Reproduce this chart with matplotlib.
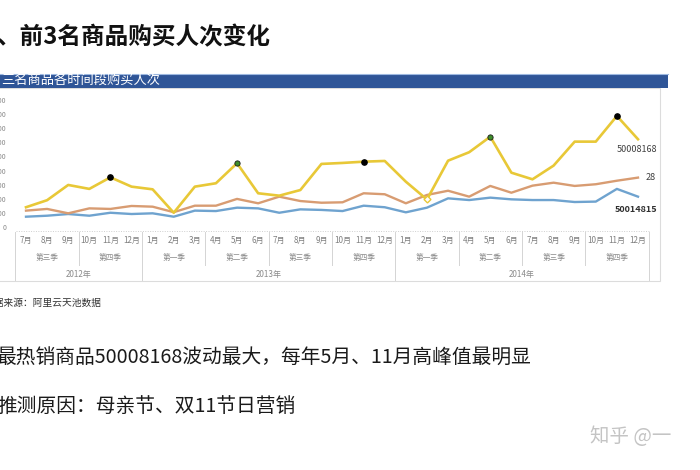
import matplotlib
matplotlib.use("Agg")
import matplotlib.pyplot as plt
from matplotlib.patches import Rectangle
from matplotlib.lines import Line2D
from matplotlib.transforms import blended_transform_factory

plt.rcParams['font.family'] = ['Noto Sans CJK SC', 'DejaVu Sans']

# ---------------- data ----------------
months = ["7月", "8月", "9月", "10月", "11月", "12月",
          "1月", "2月", "3月", "4月", "5月", "6月", "7月", "8月", "9月", "10月", "11月", "12月",
          "1月", "2月", "3月", "4月", "5月", "6月", "7月", "8月", "9月", "10月", "11月", "12月"]
quarters = ["第三季", "第四季", "第一季", "第二季", "第三季", "第四季",
            "第一季", "第二季", "第三季", "第四季"]
years = ["2012年", "2013年", "2014年"]
year_sizes = [6, 12, 12]

s_50008168 = [140, 190, 298, 270, 352, 286, 267, 101, 286, 310, 452, 239, 222, 262, 447,
              454, 463, 468, 321, 195, 470, 530, 640, 385, 338, 435, 605, 605, 787, 622]
s_28 = [116, 128, 97, 132, 128, 149, 144, 105, 151, 151, 199, 168, 215, 184, 172,
        175, 239, 232, 168, 227, 257, 215, 291, 243, 293, 314, 291, 303, 328, 350]
s_50014815 = [73, 80, 92, 80, 101, 92, 97, 73, 116, 113, 137, 132, 101, 125, 121,
              113, 151, 140, 104, 137, 203, 191, 208, 196, 191, 191, 177, 180, 270, 215]
series_names = ["50008168", "28", "50014815"]
black_peaks = [4, 16, 28]
green_peaks = [10, 22]
white_mark = [19]
yticks = list(range(0, 1000, 100))

# ---------------- layout helpers ----------------
W, H = 700, 470
def X(p): return p / W
def Y(p): return 1 - p / H

fig = plt.figure(figsize=(7, 4.7), dpi=100)
fig.patch.set_facecolor('white')

# chart frame
fig.patches.append(Rectangle((X(-2), Y(281)), X(662), (281 - 88) / H, transform=fig.transFigure,
                             facecolor='white', edgecolor='#dcdcdc', lw=0.8, zorder=-10))
# banner
fig.patches.append(Rectangle((X(-2), Y(88)), X(670), 14 / H, transform=fig.transFigure,
                             facecolor='#2F5597', edgecolor='none', zorder=1))
fig.lines.append(Line2D([X(-2), X(668)], [Y(74), Y(74)], transform=fig.transFigure,
                        color='#9db8e0', lw=0.8, zorder=2))
fig.text(X(1), Y(81.5), "三名商品各时间段购买人次", fontsize=9.5, color='white',
         ha='left', va='center', zorder=3)

# title
fig.text(X(-4), Y(37), "、前3名商品购买人次变化", fontsize=17, fontweight='bold',
         color='#111111', ha='left', va='center')

# axes
px_per_unit = 21.1
x0_pix = 26
ax_left, ax_right = 16, 660
ax = fig.add_axes([X(ax_left), Y(227), X(ax_right - ax_left), (227 - 100) / H])
ax.set_zorder(5)
ax.set_facecolor('none')
xs = list(range(len(months)))
ax.set_xlim(-(x0_pix - ax_left) / px_per_unit, 29 + (ax_right - 638) / px_per_unit)
ax.set_ylim(0, 900)
ax.set_yticks(yticks)
ax.set_yticklabels([str(v) for v in yticks], fontsize=5, color='#8a8a8a')
ax.tick_params(axis='y', length=0, pad=7)
ax.set_xticks([])
for sp in ax.spines.values():
    sp.set_visible(False)

ax.plot(xs, s_50014815, color='#6FA3CF', lw=1.7, clip_on=False, zorder=3)
ax.plot(xs, s_28, color='#D89C72', lw=1.7, clip_on=False, zorder=4)
ax.plot(xs, s_50008168, color='#E8C837', lw=1.9, clip_on=False, zorder=5)
ax.plot(black_peaks, [s_50008168[i] for i in black_peaks], 'o', ms=3.8,
        color='black', zorder=6, clip_on=False)
ax.plot(green_peaks, [s_50008168[i] for i in green_peaks], 'o', ms=3.8,
        mfc='#3E8E2A', mec='#1a1a1a', mew=0.6, zorder=6, clip_on=False)
ax.plot(white_mark, [s_50008168[i] for i in white_mark], 'D', ms=3.5,
        mfc='white', mec='#E8C837', mew=1.0, zorder=6, clip_on=False)

# series labels at right
fig.text(X(657), Y(150), series_names[0], fontsize=6.5, color='#404040', ha='right', va='center')
fig.text(X(656), Y(178), series_names[1], fontsize=6.5, color='#404040', ha='right', va='center')
fig.text(X(657), Y(210), series_names[2], fontsize=6.5, color='#303030', ha='right', va='center',
         fontweight='bold')

# category axis table
tr = blended_transform_factory(ax.transData, fig.transFigure)
fig.lines.append(Line2D([X(16), X(649)], [Y(231), Y(231)], transform=fig.transFigure,
                        color='#cfcfcf', lw=0.7, ls=(0, (1, 1.5))))
for i, m in enumerate(months):
    ax.text(i, Y(240), m, transform=tr, fontsize=5.8, color='#7f7f7f',
            ha='center', va='center', clip_on=False)
for q, name in enumerate(quarters):
    ax.text(3 * q + 1, Y(258), name, transform=tr, fontsize=5.5, color='#8a8a8a',
            ha='center', va='center', clip_on=False)
start = 0
year_bounds = [-0.5]
for name, n in zip(years, year_sizes):
    ax.text(start + (n - 1) / 2, Y(275), name, transform=tr, fontsize=5.8, color='#8a8a8a',
            ha='center', va='center', clip_on=False)
    start += n
    year_bounds.append(start - 0.5)
for q in range(len(quarters) + 1):
    b = 3 * q - 0.5
    bottom = 280 if b in year_bounds else 265
    ax.add_line(Line2D([b, b], [Y(232), Y(bottom)], transform=tr, color='#d4d4d4',
                       lw=0.7, clip_on=False))

# source & notes
fig.text(X(-15), Y(303), "数据来源：阿里云天池数据", fontsize=7, color='#333333',
         ha='left', va='center')
fig.text(X(-4), Y(358), "最热销商品50008168波动最大，每年5月、11月高峰值最明显", fontsize=14.2,
         color='#1a1a1a', ha='left', va='center')
fig.text(X(-3), Y(406), "推测原因：母亲节、双11节日营销", fontsize=14.2,
         color='#1a1a1a', ha='left', va='center')
fig.text(X(590), Y(437), "知乎 @一", fontsize=14, color='#c4c4c4', ha='left', va='center')

fig.savefig("out.png", dpi=100)
